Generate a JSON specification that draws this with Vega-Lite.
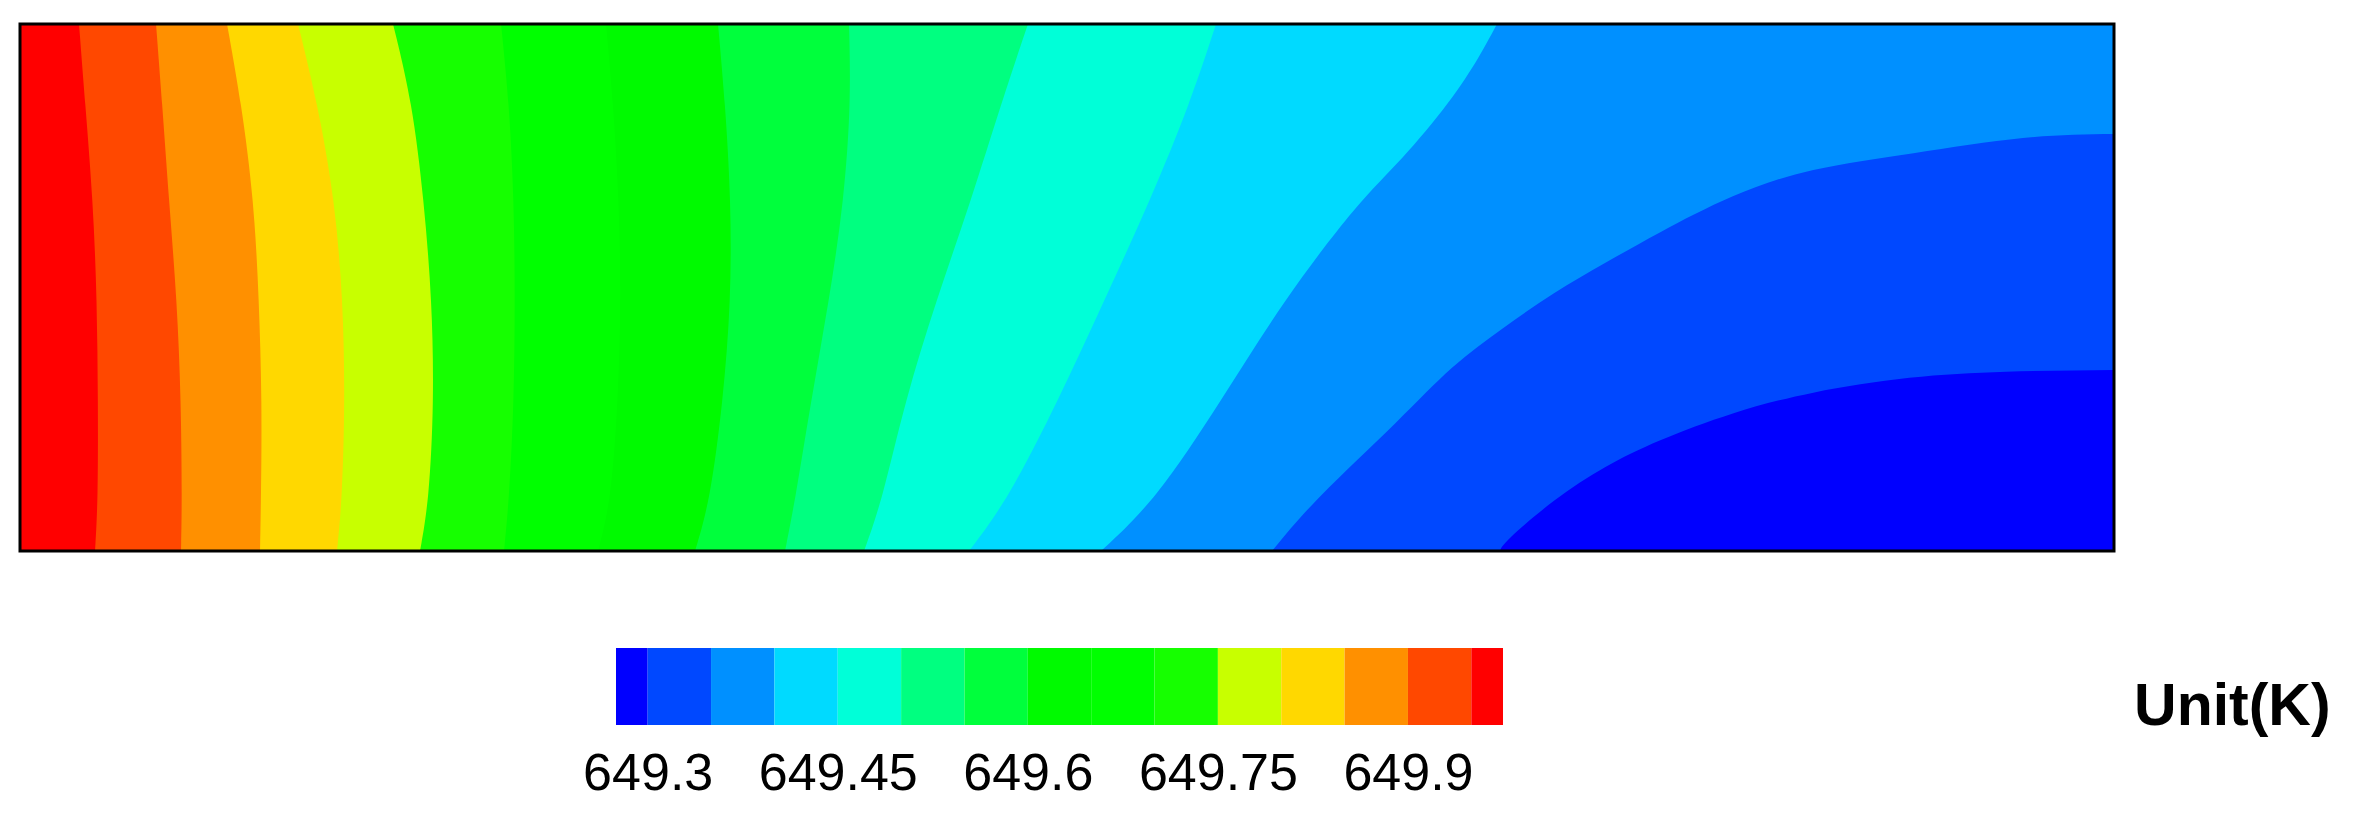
{
  "$schema": "https://vega.github.io/schema/vega-lite/v6.json",
  "background": "white",
  "padding": {"left": 18, "top": 22, "right": 0, "bottom": 0},
  "config": {"view": {"stroke": null}},
  "spacing": 95,
  "resolve": {"scale": {"x": "independent", "y": "independent", "color": "shared"}},
  "datasets": {
    "field": [
      {"band": "b00", "T": 649.96, "y": 0, "x": 0},
      {"band": "b00", "T": 649.96, "y": 527, "x": 0},
      {"band": "b01", "T": 649.925, "y": 0, "x": 75},
      {"band": "b01", "T": 649.925, "y": 50, "x": 78},
      {"band": "b01", "T": 649.925, "y": 150, "x": 78},
      {"band": "b01", "T": 649.925, "y": 250, "x": 77},
      {"band": "b01", "T": 649.925, "y": 350, "x": 73},
      {"band": "b01", "T": 649.925, "y": 450, "x": 65},
      {"band": "b01", "T": 649.925, "y": 527, "x": 59},
      {"band": "b02", "T": 649.875, "y": 0, "x": 161},
      {"band": "b02", "T": 649.875, "y": 50, "x": 162},
      {"band": "b02", "T": 649.875, "y": 150, "x": 161},
      {"band": "b02", "T": 649.875, "y": 250, "x": 157},
      {"band": "b02", "T": 649.875, "y": 350, "x": 149},
      {"band": "b02", "T": 649.875, "y": 450, "x": 142},
      {"band": "b02", "T": 649.875, "y": 527, "x": 136},
      {"band": "b03", "T": 649.825, "y": 0, "x": 240},
      {"band": "b03", "T": 649.825, "y": 50, "x": 241},
      {"band": "b03", "T": 649.825, "y": 150, "x": 242},
      {"band": "b03", "T": 649.825, "y": 250, "x": 239},
      {"band": "b03", "T": 649.825, "y": 350, "x": 234},
      {"band": "b03", "T": 649.825, "y": 450, "x": 221},
      {"band": "b03", "T": 649.825, "y": 527, "x": 207},
      {"band": "b04", "T": 649.775, "y": 0, "x": 317},
      {"band": "b04", "T": 649.775, "y": 50, "x": 322},
      {"band": "b04", "T": 649.775, "y": 150, "x": 325},
      {"band": "b04", "T": 649.775, "y": 250, "x": 323},
      {"band": "b04", "T": 649.775, "y": 350, "x": 315},
      {"band": "b04", "T": 649.775, "y": 450, "x": 297},
      {"band": "b04", "T": 649.775, "y": 527, "x": 278},
      {"band": "b05", "T": 649.725, "y": 0, "x": 400},
      {"band": "b05", "T": 649.725, "y": 50, "x": 409},
      {"band": "b05", "T": 649.725, "y": 150, "x": 414},
      {"band": "b05", "T": 649.725, "y": 250, "x": 412},
      {"band": "b05", "T": 649.725, "y": 350, "x": 404},
      {"band": "b05", "T": 649.725, "y": 450, "x": 392},
      {"band": "b05", "T": 649.725, "y": 527, "x": 373},
      {"band": "b06", "T": 649.675, "y": 0, "x": 484},
      {"band": "b06", "T": 649.675, "y": 50, "x": 489},
      {"band": "b06", "T": 649.675, "y": 150, "x": 494},
      {"band": "b06", "T": 649.675, "y": 250, "x": 495},
      {"band": "b06", "T": 649.675, "y": 350, "x": 494},
      {"band": "b06", "T": 649.675, "y": 450, "x": 489},
      {"band": "b06", "T": 649.675, "y": 527, "x": 481},
      {"band": "b07", "T": 649.625, "y": 0, "x": 578},
      {"band": "b07", "T": 649.625, "y": 50, "x": 591},
      {"band": "b07", "T": 649.625, "y": 150, "x": 598},
      {"band": "b07", "T": 649.625, "y": 250, "x": 601},
      {"band": "b07", "T": 649.625, "y": 350, "x": 599},
      {"band": "b07", "T": 649.625, "y": 450, "x": 593},
      {"band": "b07", "T": 649.625, "y": 527, "x": 586},
      {"band": "b08", "T": 649.575, "y": 0, "x": 675},
      {"band": "b08", "T": 649.575, "y": 50, "x": 690},
      {"band": "b08", "T": 649.575, "y": 150, "x": 703},
      {"band": "b08", "T": 649.575, "y": 250, "x": 711},
      {"band": "b08", "T": 649.575, "y": 350, "x": 711},
      {"band": "b08", "T": 649.575, "y": 450, "x": 705},
      {"band": "b08", "T": 649.575, "y": 527, "x": 698},
      {"band": "b09", "T": 649.525, "y": 0, "x": 765},
      {"band": "b09", "T": 649.525, "y": 50, "x": 775},
      {"band": "b09", "T": 649.525, "y": 150, "x": 791},
      {"band": "b09", "T": 649.525, "y": 250, "x": 809},
      {"band": "b09", "T": 649.525, "y": 350, "x": 824},
      {"band": "b09", "T": 649.525, "y": 450, "x": 831},
      {"band": "b09", "T": 649.525, "y": 527, "x": 829},
      {"band": "b10", "T": 649.475, "y": 0, "x": 844},
      {"band": "b10", "T": 649.475, "y": 50, "x": 862},
      {"band": "b10", "T": 649.475, "y": 150, "x": 885},
      {"band": "b10", "T": 649.475, "y": 250, "x": 916},
      {"band": "b10", "T": 649.475, "y": 350, "x": 951},
      {"band": "b10", "T": 649.475, "y": 450, "x": 982},
      {"band": "b10", "T": 649.475, "y": 527, "x": 1008},
      {"band": "b11", "T": 649.425, "y": 0, "x": 949},
      {"band": "b11", "T": 649.425, "y": 50, "x": 987},
      {"band": "b11", "T": 649.425, "y": 150, "x": 1038},
      {"band": "b11", "T": 649.425, "y": 250, "x": 1084},
      {"band": "b11", "T": 649.425, "y": 350, "x": 1130},
      {"band": "b11", "T": 649.425, "y": 450, "x": 1171},
      {"band": "b11", "T": 649.425, "y": 527, "x": 1196},
      {"band": "b12", "T": 649.375, "y": 0, "x": 1081},
      {"band": "b12", "T": 649.375, "y": 50, "x": 1135},
      {"band": "b12", "T": 649.375, "y": 150, "x": 1201},
      {"band": "b12", "T": 649.375, "y": 250, "x": 1263},
      {"band": "b12", "T": 649.375, "y": 350, "x": 1339},
      {"band": "b12", "T": 649.375, "y": 390, "x": 1381},
      {"band": "b12", "T": 649.375, "y": 450, "x": 1431},
      {"band": "b12", "T": 649.375, "y": 495, "x": 1460},
      {"band": "b12", "T": 649.375, "y": 527, "x": 1477},
      {"band": "b13", "T": 649.325, "y": 0, "x": 1252},
      {"band": "b13", "T": 649.325, "y": 50, "x": 1293},
      {"band": "b13", "T": 649.325, "y": 132, "x": 1381},
      {"band": "b13", "T": 649.325, "y": 186, "x": 1432},
      {"band": "b13", "T": 649.325, "y": 223, "x": 1483},
      {"band": "b13", "T": 649.325, "y": 259, "x": 1534},
      {"band": "b13", "T": 649.325, "y": 288, "x": 1585},
      {"band": "b13", "T": 649.325, "y": 317, "x": 1636},
      {"band": "b13", "T": 649.325, "y": 357, "x": 1713},
      {"band": "b13", "T": 649.325, "y": 383, "x": 1789},
      {"band": "b13", "T": 649.325, "y": 397, "x": 1891},
      {"band": "b13", "T": 649.325, "y": 416, "x": 2008},
      {"band": "b13", "T": 649.325, "y": 417, "x": 2094},
      {"band": "b13", "T": 649.325, "y": 418, "x": 2200},
      {"band": "b13", "T": 649.325, "y": 527, "x": 2200},
      {"band": "b14", "T": 649.29, "y": 0, "x": 1480},
      {"band": "b14", "T": 649.29, "y": 8, "x": 1483},
      {"band": "b14", "T": 649.29, "y": 52, "x": 1534},
      {"band": "b14", "T": 649.29, "y": 85, "x": 1585},
      {"band": "b14", "T": 649.29, "y": 110, "x": 1636},
      {"band": "b14", "T": 649.29, "y": 139, "x": 1713},
      {"band": "b14", "T": 649.29, "y": 159, "x": 1789},
      {"band": "b14", "T": 649.29, "y": 175, "x": 1891},
      {"band": "b14", "T": 649.29, "y": 180, "x": 1983},
      {"band": "b14", "T": 649.29, "y": 181, "x": 2094},
      {"band": "b14", "T": 649.29, "y": 182, "x": 2200},
      {"band": "b14", "T": 649.29, "y": 527, "x": 2200}
    ],
    "bar": [
      {"lo": 649.275, "hi": 649.3, "T": 649.29},
      {"lo": 649.3, "hi": 649.35, "T": 649.325},
      {"lo": 649.35, "hi": 649.4, "T": 649.375},
      {"lo": 649.4, "hi": 649.45, "T": 649.425},
      {"lo": 649.45, "hi": 649.5, "T": 649.475},
      {"lo": 649.5, "hi": 649.55, "T": 649.525},
      {"lo": 649.55, "hi": 649.6, "T": 649.575},
      {"lo": 649.6, "hi": 649.65, "T": 649.625},
      {"lo": 649.65, "hi": 649.7, "T": 649.675},
      {"lo": 649.7, "hi": 649.75, "T": 649.725},
      {"lo": 649.75, "hi": 649.8, "T": 649.775},
      {"lo": 649.8, "hi": 649.85, "T": 649.825},
      {"lo": 649.85, "hi": 649.9, "T": 649.875},
      {"lo": 649.9, "hi": 649.95, "T": 649.925},
      {"lo": 649.95, "hi": 649.975, "T": 649.96}
    ]
  },
  "vconcat": [
    {
      "width": 2094,
      "height": 527,
      "layer": [
        {
          "data": {"name": "field"},
          "mark": {"type": "area", "orient": "horizontal", "interpolate": "basis", "clip": true},
          "encoding": {
            "y": {"field": "y", "type": "quantitative", "scale": {"domain": [0, 527], "nice": false, "zero": false}, "axis": null},
            "x": {"field": "x", "type": "quantitative", "stack": null, "scale": {"domain": [0, 2094], "nice": false, "zero": false}, "axis": null},
            "x2": {"datum": 2094},
            "detail": {"field": "band", "type": "nominal"},
            "color": {
              "field": "T", "type": "quantitative", "legend": null,
              "scale": {"type": "threshold",
                "domain": [649.3, 649.35, 649.4, 649.45, 649.5, 649.55, 649.6, 649.65, 649.7, 649.75, 649.8, 649.85, 649.9, 649.95],
                "range": ["#0000FF", "#0048FF", "#0090FF", "#00DAFF", "#00FFD8", "#00FF80", "#00FF3C", "#00FA00", "#00FF00", "#16FF00", "#C8FF00", "#FFD800", "#FF9000", "#FF4800", "#FF0000"]}
            }
          }
        },
        {
          "data": {"values": [{}]},
          "mark": {"type": "rect", "filled": false, "stroke": "black", "strokeWidth": 3},
          "encoding": {
            "x": {"datum": 0, "type": "quantitative"},
            "x2": {"datum": 2094},
            "y": {"datum": 0, "type": "quantitative"},
            "y2": {"datum": 527}
          }
        }
      ]
    },
    {
      "width": 2094,
      "height": 77,
      "layer": [
        {
          "data": {"name": "bar"},
          "mark": {"type": "rect"},
          "encoding": {
            "x": {"field": "lo", "type": "quantitative",
              "scale": {"domain": [648.80465, 650.45719], "nice": false, "zero": false},
              "axis": {"values": [649.3, 649.45, 649.6, 649.75, 649.9], "labelExpr": "'' + datum.value", "title": null, "domain": false, "ticks": false, "grid": false,
                "labelFont": "Liberation Sans", "labelFontSize": 52, "labelColor": "black", "labelPadding": 23, "labelFlush": false, "labelOverlap": false}},
            "x2": {"field": "hi"},
            "y": {"datum": 0, "type": "quantitative", "scale": {"domain": [0, 1], "nice": false, "zero": false}, "axis": null},
            "y2": {"datum": 1},
            "color": {
              "field": "T", "type": "quantitative", "legend": null,
              "scale": {"type": "threshold",
                "domain": [649.3, 649.35, 649.4, 649.45, 649.5, 649.55, 649.6, 649.65, 649.7, 649.75, 649.8, 649.85, 649.9, 649.95],
                "range": ["#0000FF", "#0048FF", "#0090FF", "#00DAFF", "#00FFD8", "#00FF80", "#00FF3C", "#00FA00", "#00FF00", "#16FF00", "#C8FF00", "#FFD800", "#FF9000", "#FF4800", "#FF0000"]}
            }
          }
        },
        {
          "data": {"values": [{"label": "Unit(K)"}]},
          "mark": {"type": "text", "align": "left", "baseline": "alphabetic", "font": "Liberation Sans", "fontWeight": "bold", "fontSize": 59, "color": "black"},
          "encoding": {
            "x": {"datum": 650.473, "type": "quantitative"},
            "y": {"datum": 0, "type": "quantitative"},
            "text": {"field": "label"}
          }
        }
      ]
    }
  ]
}
